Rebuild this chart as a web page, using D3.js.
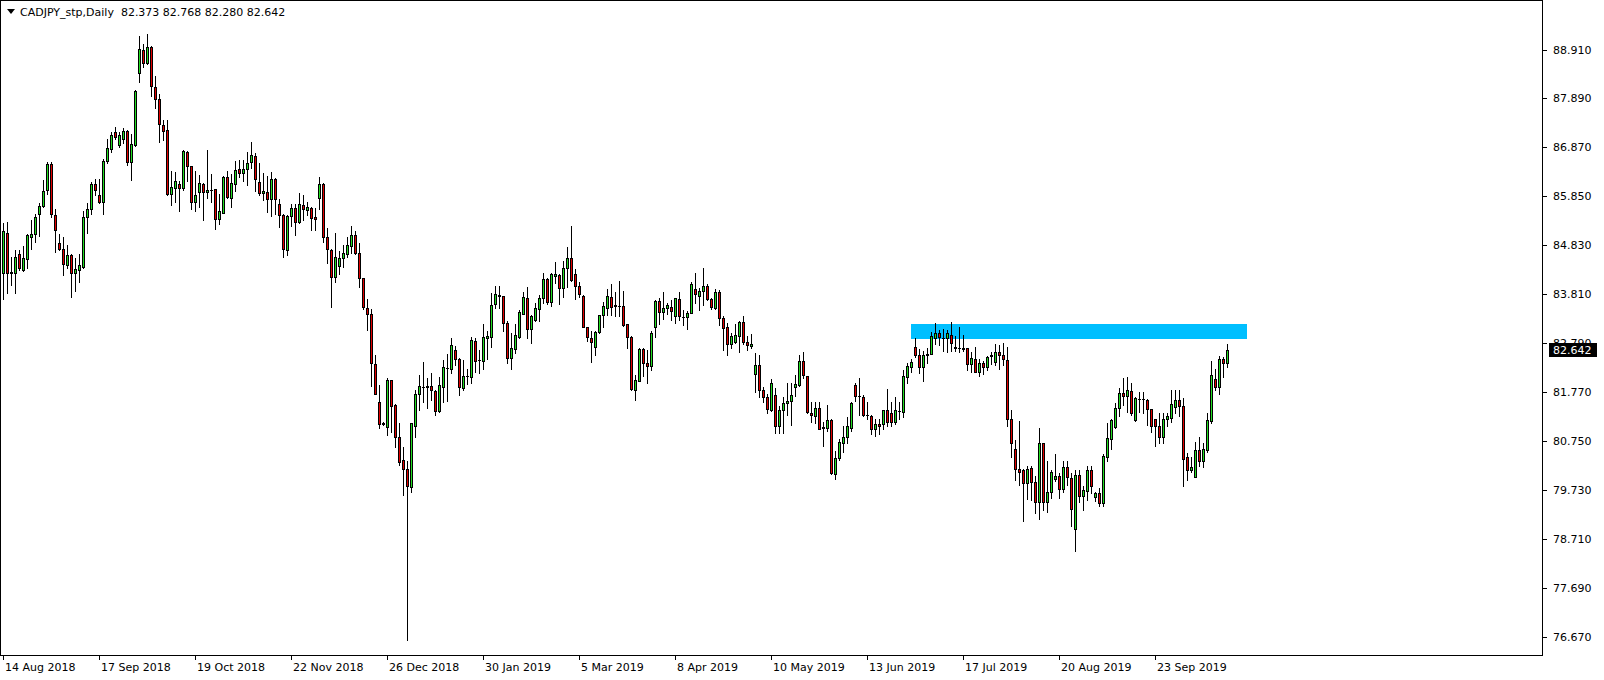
<!DOCTYPE html>
<html><head><meta charset="utf-8">
<script src="https://cdn.jsdelivr.net/npm/d3@7"></script>
<style>html,body{margin:0;padding:0;background:#fff;}svg{display:block;}</style>
</head><body>
<svg id="chart" width="1604" height="680"></svg>
<script>
const symbolTitle = "CADJPY_stp,Daily";
const lastOHLC = ["82.373", "82.768", "82.280", "82.642"];
const openP = [
84.25,85.08,84.25,84.26,84.64,84.31,84.54,85.01,85.06,85.47,
85.64,85.97,86.52,85.45,84.87,84.76,84.41,84.62,84.26,84.31,
84.37,85.41,85.58,86.11,85.88,85.72,86.58,86.83,87.18,86.92,
87.04,87.21,86.57,86.92,88.43,88.90,88.62,88.96,88.12,87.87,
87.34,87.23,85.90,86.02,86.11,86.03,86.77,86.49,85.72,85.93,
86.10,85.93,85.97,86.00,85.38,85.51,86.25,85.81,86.10,86.41,
86.33,86.41,86.56,86.69,86.14,85.91,85.93,85.79,86.22,85.68,
85.46,84.73,85.43,85.60,85.32,85.66,85.56,85.60,85.41,85.82,
86.11,84.99,84.73,84.17,84.40,84.56,84.64,84.82,85.04,84.66,
84.14,83.51,83.39,82.35,81.55,81.11,81.03,82.02,81.50,80.82,
80.35,80.16,79.78,81.06,81.72,81.88,81.88,81.89,81.79,81.38,
81.88,82.26,82.24,82.64,82.46,81.86,82.10,82.09,82.83,82.43,
82.42,82.89,82.92,83.60,83.78,83.77,83.20,82.48,82.66,82.92,
83.40,83.72,83.08,83.28,83.49,83.72,84.12,83.64,84.19,84.21,
83.94,84.35,84.56,84.22,83.98,83.78,83.12,82.89,82.70,83.01,
83.37,83.53,83.74,83.58,83.57,83.57,83.18,82.91,81.82,82.00,
82.67,82.37,82.30,83.13,83.67,83.44,83.51,83.55,83.35,83.71,
83.34,83.33,83.42,83.91,83.78,83.88,83.98,83.70,83.53,83.85,
83.32,83.12,82.76,82.82,82.94,83.23,82.82,82.73,82.14,82.33,
81.81,81.66,81.39,81.71,81.05,81.39,81.53,81.58,81.87,81.91,
82.42,82.10,81.32,81.26,81.43,81.03,81.02,81.19,80.06,80.40,
80.71,80.83,81.02,81.91,81.69,81.67,81.29,81.26,81.00,81.10,
81.10,81.39,81.32,81.15,81.38,81.36,82.09,82.28,82.70,82.54,
82.28,82.53,82.57,82.89,82.99,82.90,82.90,82.96,82.71,82.69,
82.67,82.68,82.35,82.45,82.19,82.37,82.28,82.52,82.40,82.61,
82.55,82.44,81.21,80.59,80.16,80.14,79.87,80.18,79.89,79.48,
80.70,79.48,79.68,79.95,80.02,79.74,80.21,79.97,78.91,80.03,
79.60,79.71,80.14,79.57,79.66,79.45,80.42,80.78,81.03,81.43,
81.74,81.69,81.79,81.19,81.63,81.62,81.60,81.41,81.20,81.06,
80.82,81.20,81.23,81.46,81.60,81.47,80.41,80.14,80.00,80.56,
80.33,80.55,81.17,82.03,81.88,82.45,82.373];
const highP = [
85.30,85.32,84.59,84.73,84.73,84.81,85.06,85.36,85.48,85.70,
86.18,86.57,86.57,85.58,85.06,84.99,84.83,84.65,84.56,84.64,
85.55,85.71,86.14,86.22,86.22,86.63,87.05,87.20,87.30,87.18,
87.27,87.23,87.14,88.07,89.19,89.03,89.23,88.98,88.36,87.98,
87.45,87.45,86.38,86.36,86.17,86.82,86.79,86.49,86.38,86.29,
86.12,86.82,86.31,86.00,85.89,86.27,86.38,86.31,86.59,86.61,
86.61,86.77,86.98,86.75,86.54,86.33,86.28,86.36,86.24,85.79,
85.49,85.46,85.69,85.69,85.91,85.88,85.74,85.62,85.60,86.25,
86.12,85.18,84.74,85.08,84.70,84.83,85.01,85.24,85.13,84.87,
84.15,83.70,83.50,82.53,81.92,81.14,82.07,82.02,81.52,81.13,
80.62,80.33,81.13,81.82,82.12,82.39,82.07,82.16,81.82,82.08,
82.44,82.56,82.89,82.73,82.47,82.44,82.24,82.91,82.90,82.64,
83.19,83.03,83.83,83.98,83.98,83.77,83.25,82.99,83.19,83.48,
83.85,83.96,83.37,83.62,83.79,84.26,84.14,84.26,84.47,84.22,
84.49,84.80,85.23,84.33,84.07,83.79,83.13,83.05,83.05,83.38,
83.65,83.91,84.03,83.85,84.08,83.87,83.18,82.94,82.12,82.69,
82.68,82.64,83.04,83.69,83.72,83.86,83.62,83.69,83.73,83.85,
83.48,83.46,84.07,84.24,83.93,84.35,84.01,83.72,83.91,83.90,
83.35,83.20,82.99,83.19,83.25,83.36,82.94,82.98,82.58,82.54,
81.88,81.72,82.04,81.85,81.48,81.67,81.95,81.95,82.12,82.55,
82.61,82.11,81.57,81.57,81.56,81.15,81.49,81.21,80.53,80.78,
81.06,81.24,81.57,81.96,82.07,81.71,81.57,81.29,81.20,81.20,
81.40,81.84,81.57,81.67,81.57,82.23,82.37,82.45,82.89,82.66,
82.63,82.69,83.02,83.20,83.06,83.08,83.06,83.22,82.94,83.12,
82.96,82.68,82.61,82.70,82.45,82.42,82.52,82.61,82.77,82.75,
82.80,82.70,81.39,80.77,81.16,80.16,80.23,80.23,80.02,81.01,
80.70,80.33,80.14,80.47,80.07,80.32,80.32,80.07,80.14,80.14,
79.80,80.23,80.23,79.69,79.76,80.48,81.12,81.21,81.53,81.86,
82.05,82.09,81.95,81.67,81.76,81.76,81.62,81.41,81.20,81.32,
81.32,81.32,81.80,81.80,81.80,81.64,80.49,80.42,80.73,80.82,
80.70,81.32,82.41,82.24,82.51,82.49,82.768];
const lowP = [
83.70,83.83,83.99,83.84,84.31,84.30,84.36,84.76,84.89,85.03,
85.63,85.89,85.41,84.68,84.73,84.20,84.36,83.74,83.87,84.07,
84.36,85.08,85.48,85.88,85.70,85.47,86.54,86.78,87.05,86.88,
86.95,86.50,86.19,86.90,88.24,88.55,88.61,87.95,87.68,86.99,
87.02,85.88,85.67,85.74,85.54,85.98,86.16,85.58,85.54,85.63,
85.36,85.81,85.74,85.17,85.27,85.51,85.81,85.63,85.95,86.26,
86.16,86.09,86.43,85.95,85.88,85.77,85.53,85.43,85.49,85.20,
84.59,84.63,85.22,85.04,85.29,85.36,85.46,85.15,85.15,85.59,
84.90,84.45,83.55,84.07,84.23,84.38,84.58,84.66,84.65,83.95,
83.49,83.06,81.90,81.72,81.01,81.09,80.87,80.94,80.63,80.25,
79.62,76.60,79.69,80.84,81.39,81.55,81.43,81.60,81.28,81.36,
81.57,81.58,82.17,82.33,81.71,81.81,81.94,81.96,82.18,82.17,
82.25,82.46,82.71,83.53,83.51,83.05,82.38,82.24,82.59,82.89,
83.39,82.90,82.80,83.24,83.24,83.62,83.60,83.57,84.05,83.60,
83.74,83.95,84.09,83.70,83.74,83.12,82.83,82.40,82.55,83.00,
83.12,83.37,83.37,83.36,83.36,83.14,82.69,81.81,81.60,82.00,
82.10,81.96,82.23,82.92,83.19,83.29,83.39,83.27,83.21,83.28,
83.17,83.08,83.41,83.62,83.48,83.58,83.69,83.50,83.49,83.17,
82.64,82.54,82.68,82.80,82.60,82.76,82.65,82.68,81.76,81.67,
81.55,81.32,81.38,80.91,80.91,80.92,81.29,81.07,81.69,81.89,
82.07,81.33,81.14,81.13,80.99,80.65,80.96,80.05,79.95,80.35,
80.51,80.70,80.95,81.58,81.29,81.26,81.20,80.90,80.85,80.90,
81.00,81.05,81.05,81.10,81.20,81.25,81.95,82.19,82.49,82.17,
82.00,82.38,82.56,82.77,82.75,82.63,82.61,82.63,82.63,82.61,
82.63,82.23,82.18,82.18,82.11,82.14,82.23,82.35,82.33,82.25,
82.33,81.05,80.42,79.93,79.83,79.07,79.54,79.52,79.25,79.11,
79.31,79.27,79.55,79.91,79.55,79.69,79.82,78.98,78.46,79.48,
79.30,79.52,79.66,79.50,79.40,79.40,80.32,80.57,81.01,81.27,
81.50,81.36,81.29,81.17,81.36,81.32,81.08,80.94,80.65,80.71,
80.70,81.05,81.15,81.32,81.27,79.80,79.93,80.11,80.00,80.23,
80.20,80.52,81.12,81.82,81.72,82.09,82.280];
const closeP = [
85.12,84.26,84.27,84.58,84.35,84.56,85.04,85.06,85.42,85.64,
85.95,86.52,85.47,85.15,84.76,84.43,84.62,84.26,84.33,84.41,
85.41,85.58,86.11,85.97,85.74,86.58,86.85,87.12,87.08,87.13,
87.21,86.57,86.93,88.05,88.92,88.62,88.97,88.14,87.87,87.35,
87.22,85.90,86.04,86.17,86.02,86.79,86.49,85.72,85.88,86.12,
85.93,85.98,85.98,85.37,85.54,86.26,85.84,86.12,86.40,86.33,
86.41,86.54,86.71,86.20,85.91,85.96,85.79,86.22,85.79,85.45,
84.74,85.44,85.60,85.32,85.68,85.58,85.63,85.40,85.37,86.11,
85.01,84.74,84.17,84.58,84.56,84.66,84.83,85.04,84.66,84.14,
83.54,83.39,82.37,81.72,81.10,81.12,82.02,81.48,80.82,80.30,
80.16,79.80,81.12,81.73,81.89,81.88,81.89,81.81,81.38,81.92,
82.28,82.26,82.74,82.46,81.88,82.10,82.10,82.85,82.42,82.43,
82.91,82.94,83.58,83.81,83.79,83.20,82.48,82.68,82.95,83.43,
83.74,83.08,83.35,83.51,83.72,84.12,83.64,84.23,84.23,83.94,
84.35,84.56,84.10,83.97,83.81,83.13,82.91,82.82,83.01,83.37,
83.56,83.77,83.55,83.57,83.57,83.17,82.91,81.84,82.02,82.67,
82.37,82.30,82.99,83.67,83.44,83.53,83.58,83.46,83.72,83.35,
83.34,83.41,84.03,83.81,83.88,83.98,83.70,83.55,83.85,83.32,
83.11,82.76,82.94,82.95,83.23,82.82,82.74,82.77,82.33,81.81,
81.66,81.42,81.95,81.05,81.39,81.53,81.58,81.70,81.94,82.42,
82.12,81.35,81.28,81.43,81.00,81.02,81.19,80.07,80.39,80.72,
80.83,81.05,81.53,81.69,81.69,81.29,81.29,81.00,81.10,81.05,
81.39,81.15,81.15,81.39,81.38,82.10,82.31,82.39,82.53,82.28,
82.54,82.57,82.94,82.99,82.91,82.90,82.99,82.80,82.68,82.69,
82.68,82.35,82.47,82.19,82.37,82.28,82.49,82.53,82.61,82.55,
82.45,81.21,80.71,80.17,80.11,79.87,80.16,79.90,79.48,80.70,
79.48,79.68,80.09,80.02,79.74,80.21,79.99,79.32,80.03,79.60,
79.72,80.14,79.80,79.66,79.45,80.43,80.80,81.19,81.43,81.74,
81.69,81.80,81.32,81.64,81.63,81.62,81.41,81.05,81.05,80.82,
81.20,81.27,81.52,81.60,81.47,80.38,80.14,80.21,80.56,80.33,
80.57,81.19,82.12,81.88,82.45,82.37,82.642];
const dateLabels = ["14 Aug 2018","17 Sep 2018","19 Oct 2018","22 Nov 2018","26 Dec 2018","30 Jan 2019","5 Mar 2019","8 Apr 2019","10 May 2019","13 Jun 2019","17 Jul 2019","20 Aug 2019","23 Sep 2019"];
const dateLabelBars = [1,25,49,73,97,121,145,169,193,217,241,265,289];
const priceTicks = [88.910,87.890,86.870,85.850,84.830,83.810,82.790,81.770,80.750,79.730,78.710,77.690,76.670];
const zoneTop = 83.19, zoneBottom = 82.88, zoneStartBar = 228, zoneEndBar = 312;

const W = 1604, H = 680;
const frameRight = 1542, frameBottom = 655;
const font = "DejaVu Sans, sans-serif";
const bullFill = "#22dd22", bearFill = "#e00000";

const svg = d3.select("#chart");
const n = openP.length;
const bars = d3.range(n).map(i => ({i: i + 1, o: openP[i], h: highP[i], l: lowP[i], c: closeP[i]}));

const x = d3.scaleLinear().domain([1, 2]).range([3, 7]);
const y = d3.scaleLinear().domain([76.67, 88.91]).range([636.5, 49.5]);

svg.append("rect").attr("width", W).attr("height", H).attr("fill", "#fff");

// zone rectangle
svg.append("rect")
  .attr("x", Math.round(x(zoneStartBar)))
  .attr("y", Math.round(y(zoneTop)))
  .attr("width", Math.round(x(zoneEndBar)) - Math.round(x(zoneStartBar)))
  .attr("height", Math.round(y(zoneBottom)) - Math.round(y(zoneTop)))
  .attr("fill", "#00bfff");

const g = svg.append("g");
bars.forEach(d => {
  const cx = Math.round(x(d.i));
  const yh = Math.round(y(d.h)), yl = Math.round(y(d.l));
  const yo = Math.round(y(d.o)), yc = Math.round(y(d.c));
  g.append("line").attr("x1", cx + 0.5).attr("x2", cx + 0.5).attr("y1", yh).attr("y2", yl + 1)
    .attr("stroke", "#000").attr("stroke-width", 1);
  const top = Math.min(yo, yc), bot = Math.max(yo, yc);
  if (bot - top < 1) {
    g.append("rect").attr("x", cx - 1).attr("y", top).attr("width", 3).attr("height", 1).attr("fill", "#000");
  } else {
    g.append("rect").attr("x", cx - 1).attr("y", top).attr("width", 3).attr("height", bot - top + 1).attr("fill", "#000");
    if (bot - top >= 2) {
      g.append("rect").attr("x", cx).attr("y", top + 1).attr("width", 1).attr("height", bot - top - 1)
        .attr("fill", d.c >= d.o ? bullFill : bearFill);
    }
  }
});

// frame
svg.append("line").attr("x1", frameRight + 0.5).attr("x2", frameRight + 0.5).attr("y1", 0).attr("y2", frameBottom + 1).attr("stroke", "#000");
svg.append("line").attr("x1", 0).attr("x2", frameRight + 1).attr("y1", frameBottom + 0.5).attr("y2", frameBottom + 0.5).attr("stroke", "#000");
svg.append("line").attr("x1", 0.5).attr("x2", 0.5).attr("y1", 0).attr("y2", frameBottom + 1).attr("stroke", "#000");
svg.append("line").attr("x1", 0).attr("x2", frameRight + 1).attr("y1", 0.5).attr("y2", 0.5).attr("stroke", "#000");

// price axis
const pa = svg.append("g");
priceTicks.forEach(v => {
  const yy = Math.round(y(v));
  pa.append("line").attr("x1", frameRight + 1).attr("x2", frameRight + 5).attr("y1", yy + 0.5).attr("y2", yy + 0.5).attr("stroke", "#000");
  pa.append("text").attr("x", 1553).attr("y", yy + 4).attr("font-family", font).attr("font-size", 11).attr("fill", "#000").text(v.toFixed(3));
});
// last price box
const yLast = Math.round(y(closeP[n - 1]));
pa.append("rect").attr("x", 1549).attr("y", yLast - 7).attr("width", 48).attr("height", 14).attr("fill", "#000");
pa.append("text").attr("x", 1553).attr("y", yLast + 4).attr("font-family", font).attr("font-size", 11).attr("fill", "#fff").text(lastOHLC[3]);

// time axis
const ta = svg.append("g");
dateLabels.forEach((t, k) => {
  const xx = Math.round(x(dateLabelBars[k]));
  ta.append("line").attr("x1", xx + 0.5).attr("x2", xx + 0.5).attr("y1", frameBottom + 1).attr("y2", frameBottom + 5).attr("stroke", "#000");
  ta.append("text").attr("x", xx + 2).attr("y", 671).attr("font-family", font).attr("font-size", 11).attr("fill", "#000").text(t);
});

// header
svg.append("path").attr("d", "M7,9 L15,9 L11,14 Z").attr("fill", "#000");
svg.append("text").attr("x", 20).attr("y", 16).attr("font-family", font).attr("font-size", 11).attr("fill", "#000")
  .style("white-space", "pre").attr("xml:space", "preserve")
  .text(symbolTitle + "  " + lastOHLC.join(" "));
</script>
</body></html>
